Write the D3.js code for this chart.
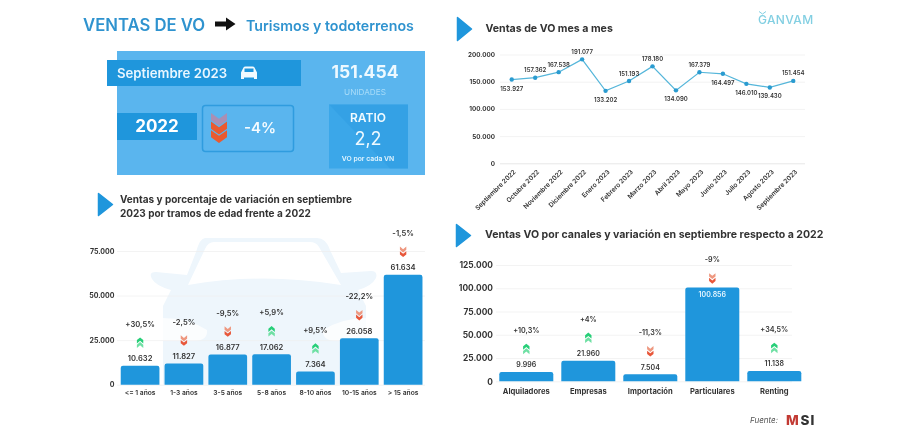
<!DOCTYPE html>
<html lang="es">
<head>
<meta charset="utf-8">
<title>Ventas de VO</title>
<script src="https://cdn.jsdelivr.net/npm/d3@7/dist/d3.min.js"></script>
<style>
html,body{margin:0;padding:0;background:#fff;}
svg{display:block;font-family:Inter,"Noto Sans",sans-serif;filter:blur(0.45px);}
text{fill:#333;}
.grid line{stroke:#eeeeee;stroke-width:.7;}
.grid path{display:none;}
</style>
</head>
<body>
<svg id="chart" width="900" height="433" viewBox="0 0 900 433"></svg>
<script>
// ---------- data ----------
const monthLabels = ["Septiembre 2022","Octubre 2022","Noviembre 2022","Diciembre 2022","Enero 2023","Febrero 2023","Marzo 2023","Abril 2023","Mayo 2023","Junio 2023","Julio 2023","Agosto 2023","Septiembre 2023"];
const monthValues = [153927,157362,167538,191077,133202,151193,178180,134090,167379,164497,146010,139430,151454];
const monthLabelBelow = [true,false,false,false,true,false,false,true,false,true,true,true,false];
const monthTicks = [0,50000,100000,150000,200000];

const ageLabels = ["<= 1 años","1-3 años","3-5 años","5-8 años","8-10 años","10-15 años","> 15 años"];
const ageValues = [10632,11827,16877,17062,7364,26058,61634];
const ageChanges = ["+30,5%","-2,5%","-9,5%","+5,9%","+9,5%","-22,2%","-1,5%"];
const ageTicks = [0,25000,50000,75000];

const channelLabels = ["Alquiladores","Empresas","Importación","Particulares","Renting"];
const channelValues = [9996,21960,7504,100856,11138];
const channelChanges = ["+10,3%","+4%","-11,3%","-9%","+34,5%"];
const channelTicks = [0,25000,50000,75000,100000,125000];
const channelLabelInside = ["Particulares"];

// ---------- helpers ----------
const locale = d3.formatLocale({decimal:",",thousands:".",grouping:[3],currency:["",""]});
const fmt = locale.format(",d");
const svg = d3.select("#chart");
const BLUE = "#1f96dc";

function txt(g,x,y,s,o={}){
  return g.append("text").attr("x",x).attr("y",y).text(s)
    .attr("text-anchor",o.anchor||"start")
    .attr("font-size",o.size||10)
    .attr("font-weight",o.weight||400)
    .attr("font-style",o.style||null)
    .style("fill",o.fill||"#333")
    .attr("letter-spacing",o.ls||null);
}
function marker(x,y0,y1){
  const m=(y0+y1)/2;
  svg.append("path").attr("d",`M${x},${y0}L${x+14},${m}L${x},${y1}Z`)
    .attr("fill",BLUE).attr("stroke",BLUE).attr("stroke-width",1.5).attr("stroke-linejoin","round");
}
// stacked chevrons, drawn top to bottom, one per colour
function chevrons(g,cx,cy,up,w,h,colors){
  const n=colors.length, thick=h/(n+1.2), rise=thick*0.8, gap=(h-thick-rise)/Math.max(n-1,1);
  colors.forEach((col,i)=>{
    const y=cy-h/2+i*gap;
    const tipY=up?y:y+rise, edgeY=up?y+rise:y;
    const p=d3.path();
    p.moveTo(cx-w/2,edgeY); p.lineTo(cx,tipY); p.lineTo(cx+w/2,edgeY);
    p.lineTo(cx+w/2,edgeY+thick); p.lineTo(cx,tipY+thick); p.lineTo(cx-w/2,edgeY+thick); p.closePath();
    g.append("path").attr("d",p.toString()).attr("fill",col);
  });
}
function topBar(x,y,w,h,r){
  return `M${x},${y+h}V${y+r}Q${x},${y} ${x+r},${y}H${x+w-r}Q${x+w},${y} ${x+w},${y+r}V${y+h}Z`;
}

// ---------- header and KPI panel ----------
txt(svg,83,30.5,"VENTAS DE VO",{size:16.7,weight:600,fill:"#2f93cf"});
svg.append("path").attr("d","M215,21.5H226V17.5L235.5,24L226,30.5V26.5H215Z").attr("fill","#111");
txt(svg,246,30.5,"Turismos y todoterrenos",{size:14.2,weight:600,fill:"#2f93cf"});

svg.append("rect").attr("x",117).attr("y",51).attr("width",308).attr("height",124).attr("fill","#5ab5ee");
svg.append("rect").attr("x",107).attr("y",60).attr("width",194).attr("height",26).attr("fill",BLUE);
txt(svg,117,77.5,"Septiembre 2023",{size:13.2,weight:600,fill:"#e8f6ff"});
// car icon
svg.append("path").attr("d","M241,79V72.5L243.5,67.5Q244,66.5 245.5,66.5H252.5Q254,66.5 254.5,67.5L257,72.5V79H254V77.5H244V79Z").attr("fill","#f2faff");
svg.append("rect").attr("x",244.5).attr("y",68.5).attr("width",9).attr("height",3.5).attr("fill",BLUE);

svg.append("rect").attr("x",117).attr("y",113).attr("width",80).attr("height",27).attr("fill",BLUE);
txt(svg,157,132,"2022",{size:17,weight:700,anchor:"middle",fill:"#fff"});

svg.append("rect").attr("x",202.5).attr("y",105.5).attr("width",91).attr("height",46).attr("rx",3).attr("fill","none").attr("stroke","#2f9cdf").attr("stroke-width",1.5);
chevrons(svg.append("g"),219,128,false,16,30,["#a98fb4","#ea5a30","#ea5a30"]);
txt(svg,260,133,"-4%",{size:15,weight:600,anchor:"middle",fill:"#f4fbff"});

txt(svg,365,78,"151.454",{size:17.5,weight:700,anchor:"middle",fill:"#eef9ff"});
txt(svg,365,95,"UNIDADES",{size:8.2,anchor:"middle",fill:"#a8dcf9"});

svg.append("rect").attr("x",329).attr("y",104.5).attr("width",79).attr("height",64).attr("fill","#3ba7e9");
svg.append("path").attr("d","M329,104.5H408V168.5H390Z").attr("fill","#2f9ce2").attr("opacity",.55);
txt(svg,368,122,"RATIO",{size:12,weight:600,anchor:"middle",fill:"#f0faff"});
txt(svg,368,145,"2,2",{size:18,weight:400,anchor:"middle",fill:"#eef9ff"});
txt(svg,368,161,"VO por cada VN",{size:6.8,weight:600,anchor:"middle",fill:"#e3f5ff"});

// ---------- line chart ----------
marker(457.5,17.5,40.5);
txt(svg,485.5,32,"Ventas de VO mes a mes",{size:10.6,weight:700});
(function(){
  const x=d3.scalePoint().domain(monthLabels).range([500,805]).padding(.5);
  const y=d3.scaleLinear().domain([0,200000]).range([163.3,54.5]);
  const g=svg.append("g");
  const ax=g.append("g").attr("class","grid").attr("transform","translate(500,0)")
    .call(d3.axisLeft(y).tickValues(monthTicks).tickFormat(fmt).tickSize(-305).tickPadding(5));
  ax.selectAll("text").attr("font-size",6.3).attr("font-weight",700).attr("font-family","Inter").style("fill","#333");
  ax.selectAll("line").filter(d=>d===0).style("stroke","#dcdcdc");
  const bx=g.append("g").attr("transform","translate(0,163.3)").call(d3.axisBottom(x).tickSize(0));
  bx.select("path").remove();
  bx.selectAll("text").attr("font-size",6.5).attr("font-weight",600).attr("font-family","Inter")
    .attr("text-anchor","end").attr("dx",0).attr("dy",0)
    .attr("transform","translate(4,9) rotate(-45)").attr("y",0).style("fill","#333");
  const line=d3.line().x((d,i)=>x(monthLabels[i])).y(d=>y(d));
  g.append("path").attr("d",line(monthValues)).attr("fill","none").attr("stroke","#55b6da").attr("stroke-width",1.2);
  g.selectAll("circle").data(monthValues).join("circle")
    .attr("cx",(d,i)=>x(monthLabels[i])).attr("cy",d=>y(d)).attr("r",2.2).attr("fill","#2a9bd0");
  g.selectAll(".v").data(monthValues).join("text").attr("class","v")
    .attr("x",(d,i)=>x(monthLabels[i])).attr("y",(d,i)=>y(d)+(monthLabelBelow[i]?11:-5.5))
    .attr("text-anchor","middle").attr("font-size",6).attr("font-weight",600).text(fmt);
})();

// ---------- bar charts ----------
function barChart(o){
  const x=d3.scaleBand().domain(o.labels).range(o.xr).padding(o.pad);
  const y=d3.scaleLinear().domain([0,o.max]).range(o.yr);
  const g=svg.append("g");
  const ax=g.append("g").attr("class","grid").attr("transform",`translate(${o.gx[0]},0)`)
    .call(d3.axisLeft(y).tickValues(o.ticks).tickFormat(fmt).tickSize(o.gx[0]-o.gx[1]).tickPadding(o.tp));
  ax.selectAll("text").attr("font-size",o.tickSize).attr("font-weight",700).attr("font-family","Inter").style("fill","#333");
  g.selectAll(".bar").data(o.values).join("path").attr("class","bar").attr("fill",BLUE)
    .attr("d",(d,i)=>topBar(x(o.labels[i]),y(d),x.bandwidth(),y(0)-y(d),2.2));
  const bx=g.append("g").attr("transform",`translate(0,${o.yr[0]})`).call(d3.axisBottom(x).tickSize(0).tickPadding(o.catPad));
  bx.select("path").remove();
  bx.selectAll("text").attr("font-size",o.catSize).attr("font-weight",o.catWeight).attr("font-family","Inter").style("fill","#333");
  o.values.forEach((d,i)=>{
    const cx=x(o.labels[i])+x.bandwidth()/2, top=y(d), inside=(o.inside||[]).includes(o.labels[i]);
    const up=o.changes[i][0]==="+";
    txt(g,cx,top+(inside?10:-4.5),fmt(d),{size:o.valSize,weight:600,anchor:"middle",fill:inside?"#e6f6ff":"#333"});
    chevrons(g,cx,top-(inside?9:23),up,6.4,10.5,up?["#27cf78","#6fe0a4"]:["#ee9880","#e8573a"]);
    txt(g,cx,top-(inside?25:39),o.changes[i],{size:o.pctSize,weight:600,anchor:"middle"});
  });
}

// pale car behind the age chart
svg.append("path").attr("fill","#eef6fc").attr("d",
 "M205,238H317Q326,238 330,250L341,273L371,271Q378,271 376,278Q372,286 358,290L366,306V384.5H163V306L171,290Q156,286 152,279Q148,272 156,272L187,275L196,252Q200,238 205,238Z");
svg.append("path").attr("fill","#fff").attr("d",
 "M188,285Q262,272 341,285L319,247Q316,242 310,242H214Q208,242 205,249Z");
svg.append("path").attr("fill","#fff").attr("opacity",.75).attr("d",
 "M163,318Q188,318 207,330Q208,340 195,341H163Z M367,318Q342,318 323,330Q322,340 335,341H367Z");

marker(98.5,193.5,215.5);
txt(svg,120,203,"Ventas y porcentaje de variación en septiembre",{size:10,weight:700});
txt(svg,120,217,"2023 por tramos de edad frente a 2022",{size:10,weight:700});
barChart({labels:ageLabels,values:ageValues,changes:ageChanges,ticks:ageTicks,max:75000,
  xr:[115.6,427.6],yr:[384.7,251],pad:.117,gx:[117,425],tp:2.5,tickSize:7,catSize:6.7,catWeight:600,catPad:6,valSize:7.6,pctSize:7.6});

marker(456.5,224.5,246.5);
txt(svg,485,238,"Ventas VO por canales y variación en septiembre respecto a 2022",{size:10.55,weight:700});
barChart({labels:channelLabels,values:channelValues,changes:channelChanges,ticks:channelTicks,max:125000,inside:channelLabelInside,
  xr:[491.3,809.3],yr:[381.3,265],pad:.129,gx:[496,792],tp:3,tickSize:8.4,catSize:7.6,catWeight:700,catPad:7,valSize:7,pctSize:7.2});

// ---------- logos ----------
txt(svg,758,24,"GANVAM",{size:12,weight:500,fill:"#82cfe2",ls:.35});
svg.append("path").attr("d","M759,11.5L762.5,14L766,11.5").attr("fill","none").attr("stroke","#82cfe2").attr("stroke-width",1);
txt(svg,750,423,"Fuente:",{size:8,style:"italic",fill:"#555"});
txt(svg,786,424.5,"M",{size:13.5,weight:800,fill:"#c23a33"});
txt(svg,800.5,424.5,"SI",{size:13.5,weight:800,fill:"#333",ls:1});
</script>
</body>
</html>
